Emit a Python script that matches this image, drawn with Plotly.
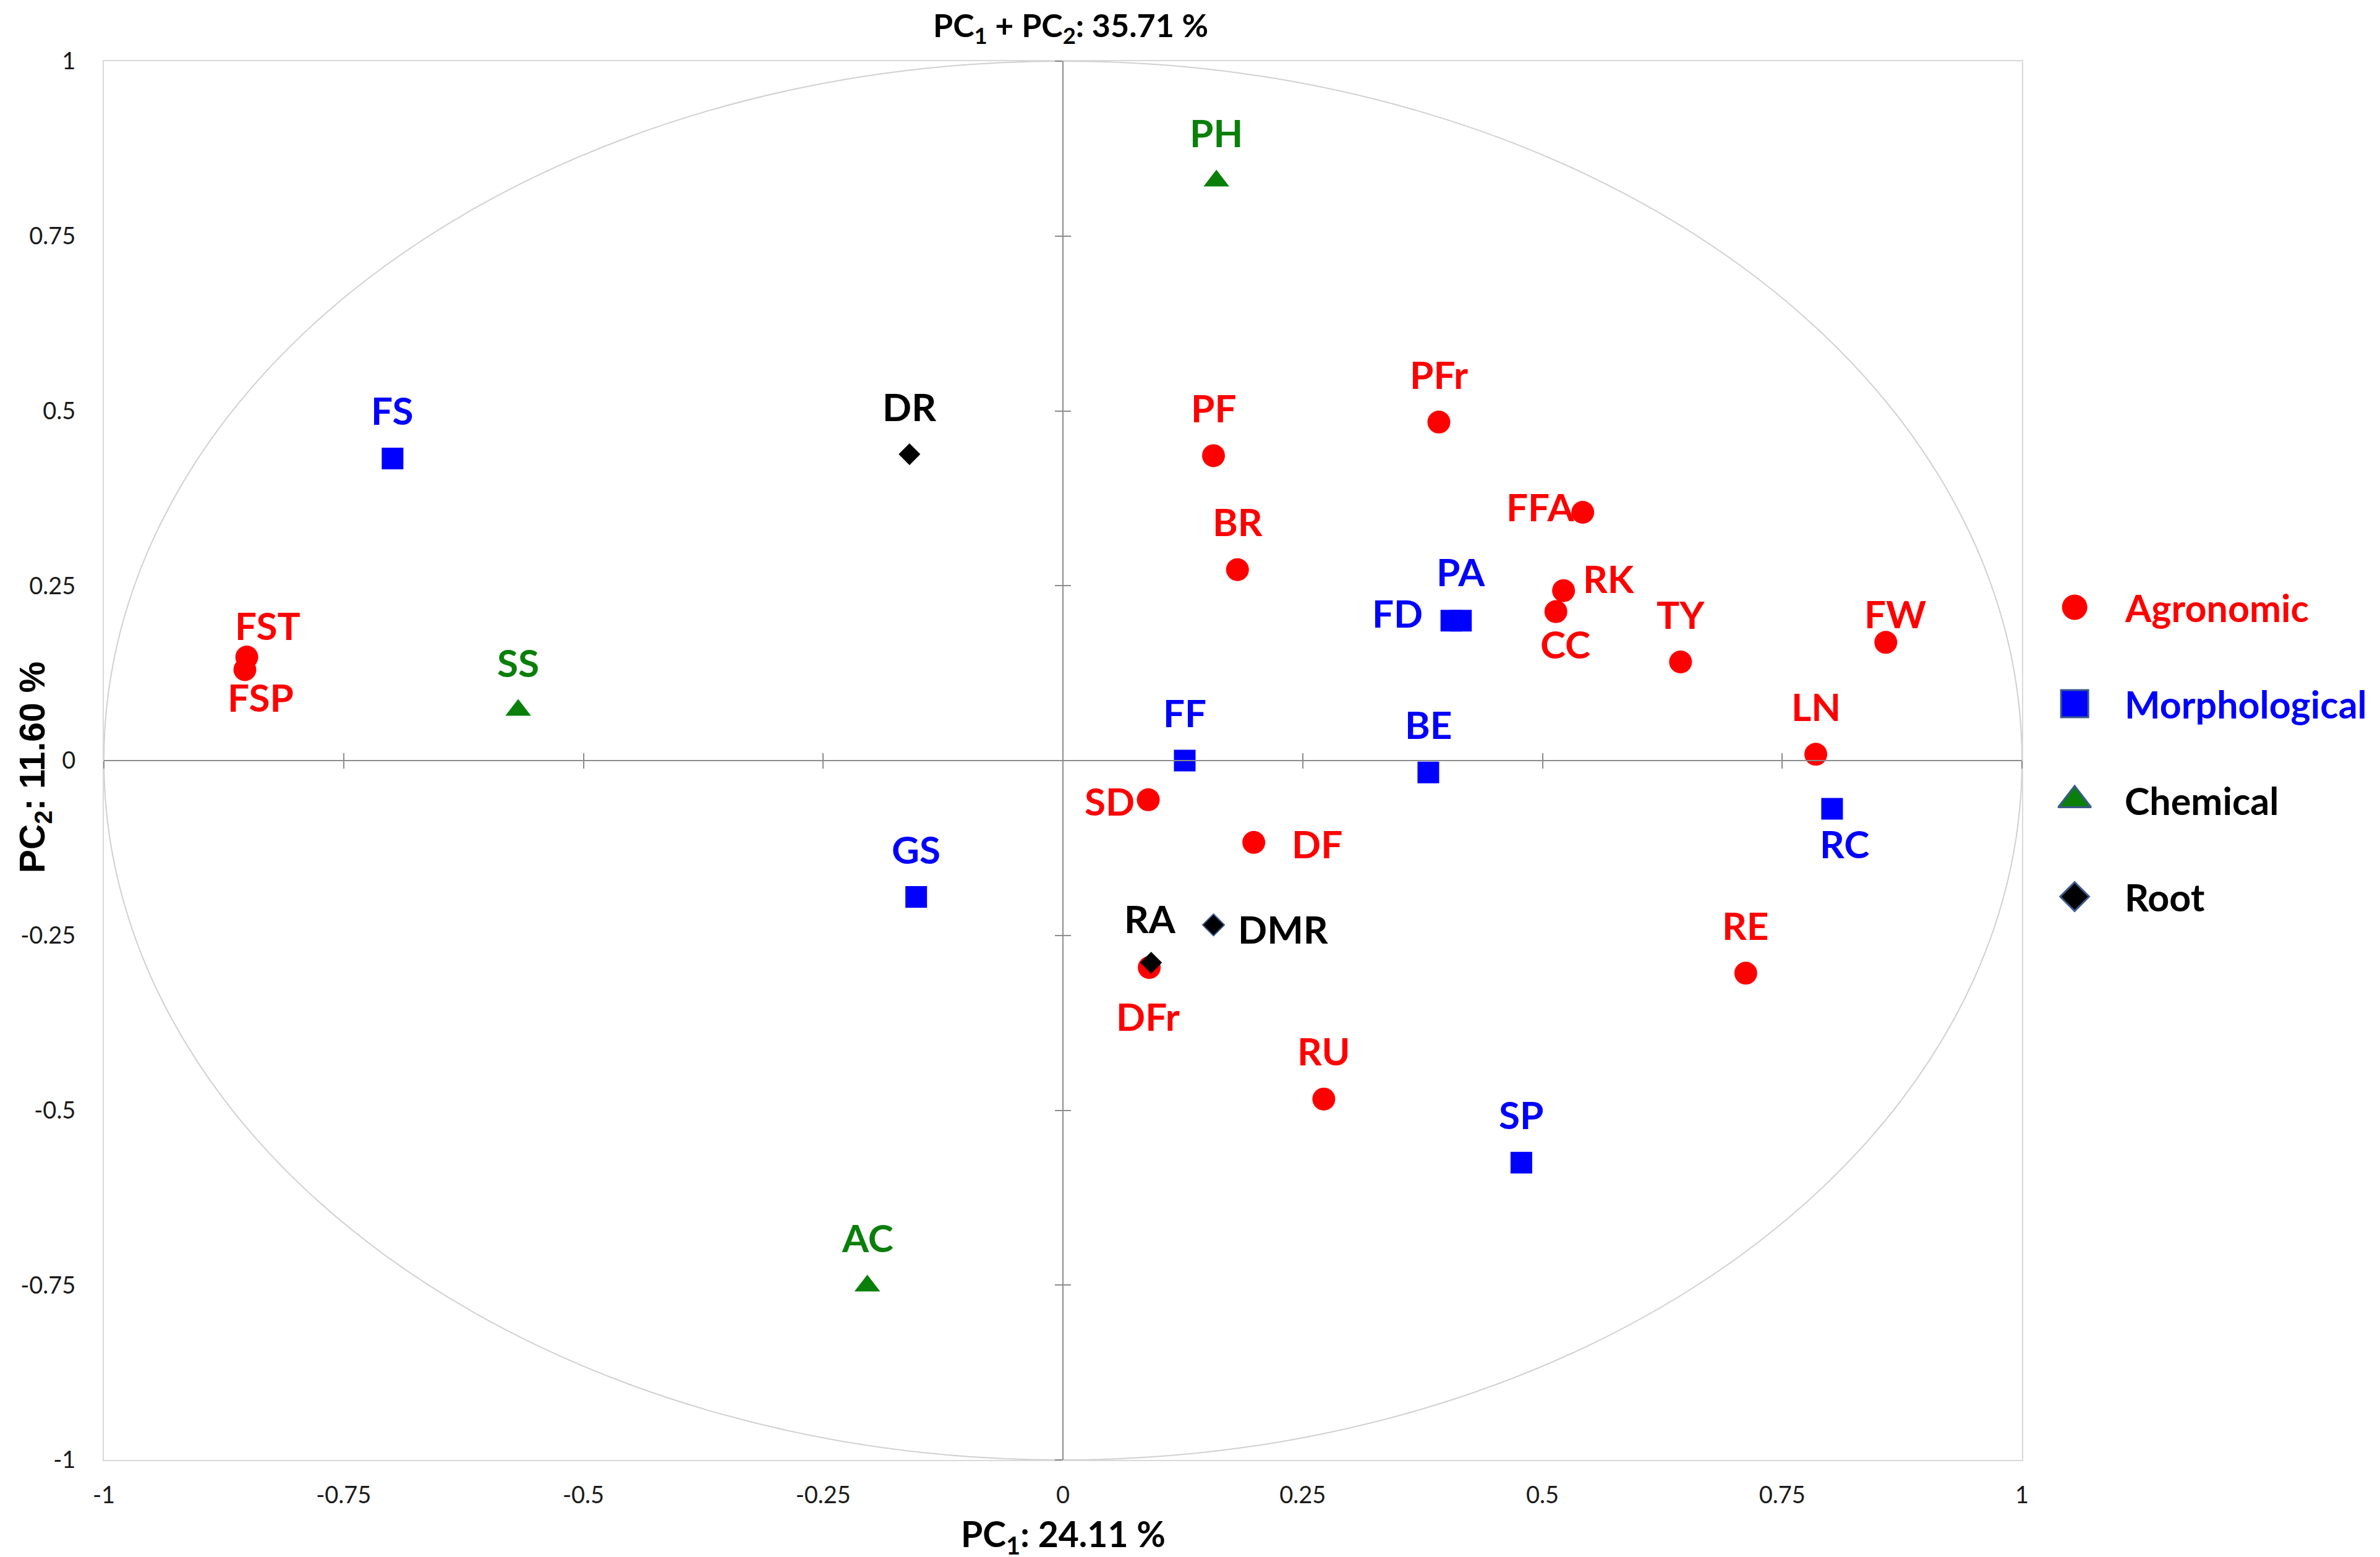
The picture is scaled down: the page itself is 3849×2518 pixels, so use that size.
import plotly.graph_objects as go

# values (PC1, PC2)
AGRO_LABELS = ['PFr', 'PF', 'BR', 'FFA', 'RK', 'CC', 'TY', 'FW', 'LN', 'SD', 'DF', 'DFr', 'RU', 'RE', 'FST', 'FSP']
AGRO_X = [0.392, 0.157, 0.182, 0.542, 0.522, 0.514, 0.644, 0.858, 0.785, 0.089, 0.199, 0.090, 0.272, 0.712, -0.851, -0.853]
AGRO_Y = [0.484, 0.436, 0.273, 0.355, 0.243, 0.213, 0.141, 0.169, 0.009, -0.056, -0.117, -0.296, -0.484, -0.304, 0.148, 0.130]

MORPH_LABELS = ['FS', 'FD', 'PA', 'FF', 'BE', 'RC', 'GS', 'SP']
MORPH_X = [-0.699, 0.405, 0.415, 0.127, 0.381, 0.802, -0.153, 0.478]
MORPH_Y = [0.432, 0.200, 0.200, 0.000, -0.017, -0.069, -0.195, -0.575]

CHEM_LABELS = ['PH', 'SS', 'AC']
CHEM_X = [0.160, -0.568, -0.204]
CHEM_Y = [0.829, 0.072, -0.751]

ROOT_LABELS = ['DR', 'RA', 'DMR']
ROOT_X = [-0.160, 0.092, 0.157]
ROOT_Y = [0.438, -0.289, -0.235]

GROUPS = ['Agronomic', 'Morphological', 'Chemical', 'Root']

TICK_VALS = [-1, -0.75, -0.5, -0.25, 0, 0.25, 0.5, 0.75, 1]
TICK_TEXT = ['-1', '-0.75', '-0.5', '-0.25', '0', '0.25', '0.5', '0.75', '1']

# styles
RED, BLUE, GREEN = '#FF0000', '#0000FF', '#0A7F0A'
OUTLINE = '#3A5A8C'
STYLE = {
    'Agronomic': dict(symbol='circle', size=37, color=RED, text=RED, leg_size=41, leg_line=0, leg_text=RED),
    'Morphological': dict(symbol='square', size=35, color=BLUE, text=BLUE, leg_size=44, leg_line=3, leg_text=BLUE),
    'Chemical': dict(symbol='triangle-up', size=36, color=GREEN, text=GREEN, leg_size=46, leg_line=3, leg_text='#000000'),
    'Root': dict(symbol='diamond', size=27, color='#000000', text='#000000', leg_size=36, leg_line=3, leg_text='#000000'),
}

# label offsets in pixels (xshift, yshift); default is straight above the marker
DEFAULT_SHIFT = (0, 78)
LABEL_SHIFT = {
    'FFA': (-69, 10), 'RK': (73, 20), 'CC': (15, -52), 'FW': (15, 47),
    'SD': (-63, -2), 'DF': (102, -2), 'DFr': (-2, -78), 'FST': (34, 52),
    'FSP': (25, -44), 'FD': (-87, 13), 'PA': (0, 80), 'RC': (20, -56),
    'RA': (-2, 72), 'DMR': (112, -6),
}

LABEL_FONT = 'Lato, Carlito, sans-serif'
LABEL_SIZE = 62
W, H = 3849, 2518
M = dict(l=160, r=40, t=91, b=165)
main_dom = (3262 - 160) / (W - M['l'] - M['r'])
x_mid = main_dom / 2

fig = go.Figure()

series = [
    ('Agronomic', AGRO_LABELS, AGRO_X, AGRO_Y),
    ('Morphological', MORPH_LABELS, MORPH_X, MORPH_Y),
    ('Chemical', CHEM_LABELS, CHEM_X, CHEM_Y),
    ('Root', ROOT_LABELS, ROOT_X, ROOT_Y),
]

# empty traces so the two overlay axis pairs (the crossing zero axes) get drawn
for ax in ('2', '3'):
    fig.add_trace(go.Scatter(x=[], y=[], xaxis='x' + ax, yaxis='y' + ax,
                             showlegend=False, hoverinfo='skip'))

for name, labels, xs, ys in series:
    st = STYLE[name]
    line_w = [2 if lab == 'DMR' else 0 for lab in labels]
    fig.add_trace(go.Scatter(
        x=xs, y=ys, mode='markers', name=name, text=labels,
        hoverinfo='text', showlegend=False,
        marker=dict(symbol=st['symbol'], size=st['size'], color=st['color'], opacity=1,
                    line=dict(width=line_w, color=OUTLINE)),
    ))
    for lab, x, y in zip(labels, xs, ys):
        dx, dy = LABEL_SHIFT.get(lab, DEFAULT_SHIFT)
        fig.add_annotation(
            x=x, y=y, xref='x', yref='y', text=lab, showarrow=False,
            xshift=dx, yshift=dy,
            font=dict(family=LABEL_FONT, size=LABEL_SIZE, color=st['text'], weight='bold'),
        )

# legend drawn as its own little subplot so the symbols can be large
fig.add_trace(go.Scatter(
    x=[0.096] * len(GROUPS), y=GROUPS, xaxis='x4', yaxis='y4',
    mode='markers', showlegend=False, hoverinfo='skip',
    marker=dict(
        symbol=[STYLE[g]['symbol'] for g in GROUPS],
        size=[STYLE[g]['leg_size'] for g in GROUPS],
        color=[STYLE[g]['color'] for g in GROUPS],
        opacity=1,
        line=dict(width=[STYLE[g]['leg_line'] for g in GROUPS], color=OUTLINE),
    ),
))
for g in GROUPS:
    fig.add_annotation(
        x=0.25, y=g, xref='x4', yref='y4', text=g, showarrow=False,
        xanchor='left',
        font=dict(family=LABEL_FONT, size=61, color=STYLE[g]['leg_text'], weight='bold'),
    )

# correlation circle
fig.add_shape(type='circle', xref='x', yref='y', x0=-1, y0=-1, x1=1, y1=1,
              line=dict(color='#D0D0D0', width=2), layer='below')

# titles
fig.add_annotation(x=x_mid, y=1, xref='paper', yref='paper', xshift=12, yshift=92,
                   text='PC<sub>1</sub> + PC<sub>2</sub>: 35.71 %', showarrow=False,
                   font=dict(family=LABEL_FONT, size=52, color='#000000', weight='bold'))
fig.add_annotation(x=x_mid, y=0, xref='paper', yref='paper', yshift=-163,
                   text='PC<sub>1</sub>: 24.11 %', showarrow=False,
                   font=dict(family=LABEL_FONT, size=57, color='#000000', weight='bold'))
fig.add_annotation(x=0, y=0.5, xref='paper', yref='paper', xshift=-150, yshift=-11,
                   text='PC<sub>2</sub>: 11.60 %', showarrow=False, textangle=-90,
                   font=dict(family='Liberation Sans, Arial, sans-serif', size=57,
                             color='#000000', weight='bold'))

tick_font = dict(family=LABEL_FONT, size=38, color='#1a1a1a')
frame = dict(range=[-1, 1], tickvals=TICK_VALS, ticktext=TICK_TEXT, ticks='',
             showline=True, mirror=True, linecolor='#D9D9D9', linewidth=2,
             showgrid=False, zeroline=False, tickfont=tick_font, fixedrange=True)
cross = dict(range=[-1, 1], tickvals=TICK_VALS, showticklabels=False, ticklen=12,
             tickwidth=2, tickcolor='#8C8C8C', linecolor='#8C8C8C', linewidth=2,
             showgrid=False, zeroline=False, anchor='free', fixedrange=True)

legend_top = (91 - 974) / 156
legend_bot = (2353 - 974) / 156

fig.update_layout(
    width=W, height=H, margin=M, template='none',
    plot_bgcolor='white', paper_bgcolor='white', showlegend=False,
    xaxis=dict(domain=[0, main_dom], ticklabelstandoff=22, **frame),
    yaxis=dict(domain=[0, 1], ticklabelstandoff=36, **frame),
    xaxis2=dict(domain=[0, main_dom], overlaying='x', position=0.5, ticks='outside', showline=True, **cross),
    xaxis3=dict(domain=[0, main_dom], overlaying='x', position=0.5, ticks='inside', showline=False, **cross),
    yaxis2=dict(domain=[0, 1], overlaying='y', position=x_mid, ticks='outside', showline=True, **cross),
    yaxis3=dict(domain=[0, 1], overlaying='y', position=x_mid, ticks='inside', showline=False, **cross),
    xaxis4=dict(domain=[0.86, 1], range=[0, 1], anchor='y4', visible=False, fixedrange=True),
    yaxis4=dict(domain=[0, 1], type='category', range=[legend_bot, legend_top],
                anchor='x4', visible=False, fixedrange=True),
)

fig.write_html('out.html')
